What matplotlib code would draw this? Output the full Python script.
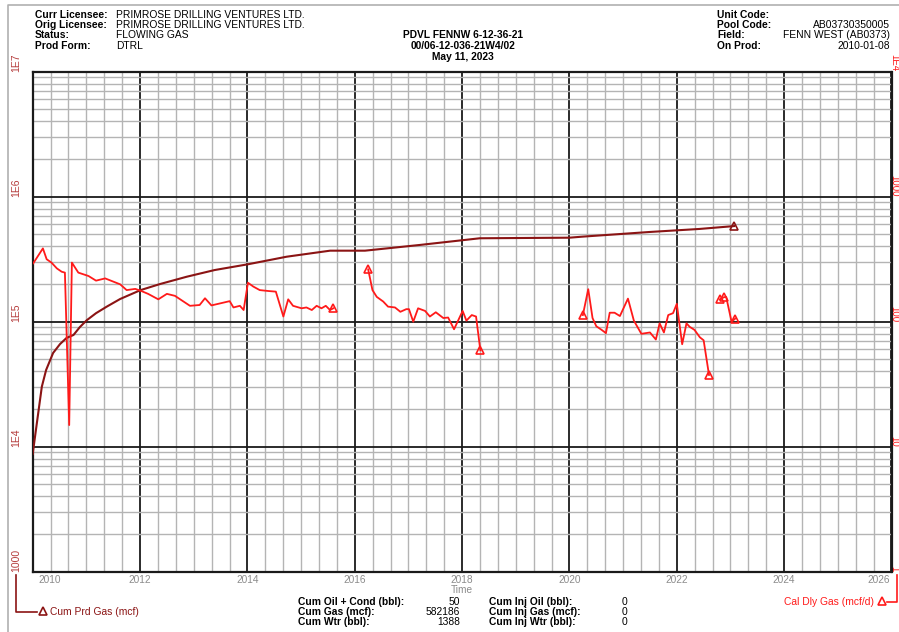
import matplotlib
matplotlib.use('Agg')
import numpy as np
import matplotlib.pyplot as plt
import matplotlib.ticker as mticker
import matplotlib.transforms as mtrans
from matplotlib.lines import Line2D

plt.rcParams['font.family'] = ['Liberation Sans', 'DejaVu Sans']

# Cumulative produced gas (mcf), left axis
cum_years = [2010.00, 2010.06, 2010.17, 2010.25, 2010.38, 2010.51, 2010.63, 2010.76,
             2010.88, 2011.01, 2011.18, 2011.38, 2011.63, 2012.01, 2012.37, 2012.87,
             2013.39, 2014.01, 2014.73, 2015.54, 2016.19, 2017.21, 2018.33, 2020.00,
             2020.24, 2021.49, 2022.42, 2023.07]
cum_gas = [8750, 13600, 30200, 41100, 56200, 66300, 74100, 78300,
           90700, 103000, 117000, 132000, 152000, 179000, 200000, 229000,
           259000, 288000, 331000, 370000, 370000, 411000, 465000, 470000,
           479000, 522000, 552000, 582186]

# Calendar daily gas (mcf/d), right axis, in producing periods
dly_years = [
    [2010.01, 2010.19, 2010.26, 2010.35, 2010.45, 2010.54, 2010.60, 2010.68, 2010.73,
     2010.85, 2011.04, 2011.18, 2011.35, 2011.63, 2011.75, 2011.91, 2012.01, 2012.15,
     2012.34, 2012.50, 2012.65, 2012.93, 2013.11, 2013.21, 2013.33, 2013.55, 2013.67,
     2013.74, 2013.86, 2013.93, 2014.01, 2014.11, 2014.23, 2014.39, 2014.53, 2014.67,
     2014.76, 2014.85, 2015.01, 2015.10, 2015.20, 2015.29, 2015.38, 2015.46, 2015.54,
     2015.60],
    [2016.25, 2016.33, 2016.41, 2016.53, 2016.62, 2016.75, 2016.85, 2016.96, 2017.01,
     2017.09, 2017.18, 2017.31, 2017.40, 2017.51, 2017.65, 2017.74, 2017.85, 2017.93,
     2018.01, 2018.08, 2018.18, 2018.26, 2018.34],
    [2020.25, 2020.35, 2020.43, 2020.50, 2020.60, 2020.68, 2020.75, 2020.84, 2020.94,
     2021.09, 2021.20, 2021.34, 2021.50, 2021.61, 2021.68, 2021.76, 2021.84, 2021.93,
     2022.00, 2022.10, 2022.18, 2022.24, 2022.33, 2022.43, 2022.50, 2022.60],
    [2022.80, 2022.88, 2022.92, 2023.02, 2023.09],
]
dly_gas = [
    [293, 386, 316, 297, 267, 251, 247, 14.9, 297,
     247, 232, 213, 222, 199, 179, 183, 177, 167,
     151, 167, 161, 134, 136, 154, 135, 142, 146,
     130, 134, 124, 205, 191, 179, 176, 174, 110,
     151, 134, 128, 130, 124, 134, 128, 134, 124,
     128],
    [262, 179, 158, 145, 132, 130, 120, 126, 126,
     100, 128, 122, 110, 119, 107, 108, 87, 103,
     122, 102, 113, 110, 59],
    [113, 182, 107, 92, 86, 81, 118, 118, 111,
     153, 102, 80, 82, 72, 97, 82, 113, 117,
     139, 66, 97, 91, 86, 75, 71, 37.5],
    [151, 157, 158, 100, 106],
]
dly_marks = [[-1], [0, -1], [0, -1], [0, 1, -1]]

left_ticks = [1e3, 1e4, 1e5, 1e6, 1e7]
left_labels = ['1000', '1E4', '1E5', '1E6', '1E7']
right_ticks = [1, 10, 100, 1000, 1e4]
right_labels = ['1', '10', '100', '1000', '1E4']
year_ticks = list(range(2010, 2027, 2))

W, H = 899, 632
CUM = '#8b1414'
DLY = '#ff1a1a'


def fx(x):
    return x / W


def fy(y):
    return 1 - y / H


fig = plt.figure(figsize=(W / 100, H / 100), dpi=100)
ax = fig.add_axes([fx(32.7), fy(571.7), (891.5 - 32.7) / W, 500 / H])
ax.set_xlim(2010, 2026)
ax.set_yscale('log')
ax.set_ylim(1e3, 1e7)
ax.xaxis.set_major_locator(mticker.MultipleLocator(2))
ax.xaxis.set_minor_locator(mticker.MultipleLocator(1 / 3))
ax.yaxis.set_major_locator(mticker.LogLocator(base=10, numticks=20))
ax.yaxis.set_minor_locator(mticker.LogLocator(base=10, subs=np.arange(2, 10), numticks=20))
ax.set_axisbelow(True)
ax.grid(which='minor', color='#b4b4b4', lw=1.0)
ax.grid(which='major', color='#1a1a1a', lw=1.3)
ax.tick_params(which='both', length=0, labelleft=False, labelbottom=False)
for s in ax.spines.values():
    s.set_linewidth(1.6)
    s.set_color('#1a1a1a')

ax2 = ax.twinx()
ax2.set_yscale('log')
ax2.set_ylim(1, 1e4)
ax2.yaxis.set_minor_locator(mticker.NullLocator())
ax2.tick_params(which='both', length=0, labelright=False)
for s in ax2.spines.values():
    s.set_visible(False)

# cumulative curve
ax.plot(cum_years, cum_gas, color=CUM, lw=1.5, zorder=3)
ax.plot(cum_years[-1], cum_gas[-1], marker='^', mfc='none', mec=CUM, ms=6, mew=1.2,
        zorder=4, clip_on=False)

# daily rate segments
for yrs, vals, marks in zip(dly_years, dly_gas, dly_marks):
    ax2.plot(yrs, vals, color=DLY, lw=1.3, zorder=3)
    ax2.plot([yrs[i] for i in marks], [vals[i] for i in marks], ls='none', marker='^',
             mfc='none', mec=DLY, ms=6, mew=1.2, zorder=4)

# axis labels
tl = mtrans.blended_transform_factory(fig.transFigure, ax.transData)
for v, lab in zip(left_ticks, left_labels):
    fig.text(fx(16), v, lab, transform=tl, rotation=90, rotation_mode='anchor',
             ha='left', va='center', fontsize=7.5, color='#b53c3c')
tr = mtrans.blended_transform_factory(fig.transFigure, ax2.transData)
for v, lab in zip(right_ticks, right_labels):
    fig.text(fx(894.5), v, lab, transform=tr, rotation=270, rotation_mode='anchor',
             ha='right', va='center', fontsize=7.0, color=DLY)

tx = mtrans.blended_transform_factory(ax.transData, fig.transFigure)
for yr in year_ticks:
    ha = 'left' if yr == year_ticks[0] else ('right' if yr == year_ticks[-1] else 'center')
    off = 0.1 if yr == year_ticks[0] else (-0.03 if yr == year_ticks[-1] else 0)
    fig.text(yr + off, fy(580), str(yr), transform=tx, ha=ha, va='center',
             fontsize=7.3, color='#8c8c8c')
fig.text(fx(462), fy(590), 'Time', ha='center', va='center', fontsize=7.3, color='#8c8c8c')

# header
fs = 7.4
hdr_left = [('Curr Licensee:', 'PRIMROSE DRILLING VENTURES LTD.'),
            ('Orig Licensee:', 'PRIMROSE DRILLING VENTURES LTD.'),
            ('Status:', 'FLOWING GAS'),
            ('Prod Form:', 'DTRL')]
for i, (k, v) in enumerate(hdr_left):
    y = 15 + i * 10.2
    fig.text(fx(35), fy(y), k, fontweight='bold', fontsize=fs, va='center')
    fig.text(fx(116), fy(y), v, fontsize=fs, va='center')

hdr_mid = ['PDVL FENNW 6-12-36-21', '00/06-12-036-21W4/02', 'May 11, 2023']
for i, t in enumerate(hdr_mid):
    fig.text(fx(463), fy(35.5 + i * 10.6), t, fontweight='bold', fontsize=fs,
             ha='center', va='center')

hdr_right = [('Unit Code:', ''), ('Pool Code:', 'AB03730350005'),
             ('Field:', 'FENN WEST (AB0373)'), ('On Prod:', '2010-01-08')]
for i, (k, v) in enumerate(hdr_right):
    y = 15 + i * 10.2
    fig.text(fx(717), fy(y), k, fontweight='bold', fontsize=fs, va='center')
    fig.text(fx(890), fy(y), v, fontsize=fs, va='center', ha='right')

# footer totals
ftr_a = [('Cum Oil + Cond (bbl):', '50'), ('Cum Gas (mcf):', '582186'),
         ('Cum Wtr (bbl):', '1388')]
ftr_b = [('Cum Inj Oil (bbl):', '0'), ('Cum Inj Gas (mcf):', '0'),
         ('Cum Inj Wtr (bbl):', '0')]
for i, ((ka, va_), (kb, vb)) in enumerate(zip(ftr_a, ftr_b)):
    y = 601.7 + i * 10
    fig.text(fx(298), fy(y), ka, fontweight='bold', fontsize=fs, va='center')
    fig.text(fx(460), fy(y), va_, fontsize=fs, va='center', ha='right')
    fig.text(fx(489), fy(y), kb, fontweight='bold', fontsize=fs, va='center')
    fig.text(fx(627), fy(y), vb, fontsize=fs, va='center', ha='right')

# legends
fig.add_artist(Line2D([fx(16), fx(16), fx(37)], [fy(575), fy(611.7), fy(611.7)],
                      color=CUM, lw=1.2))
fig.add_artist(Line2D([fx(43)], [fy(611)], marker='^', mfc='none', mec=CUM, ms=6, mew=1.2))
fig.text(fx(50), fy(611.7), 'Cum Prd Gas (mcf)', fontsize=fs, color=CUM, va='center')

fig.add_artist(Line2D([fx(887), fx(896.5), fx(896.5)], [fy(601.7), fy(601.7), fy(575)],
                      color=DLY, lw=1.2))
fig.add_artist(Line2D([fx(881.5)], [fy(601)], marker='^', mfc='none', mec=DLY, ms=6, mew=1.2))
fig.text(fx(874), fy(601.7), 'Cal Dly Gas (mcf/d)', fontsize=fs, color=DLY, va='center',
         ha='right')

# page frame
fig.add_artist(Line2D([fx(8), fx(8), fx(899)], [0, fy(5), fy(5)], color='#b0b0b0', lw=1.2))

fig.savefig('out.png', dpi=100)
